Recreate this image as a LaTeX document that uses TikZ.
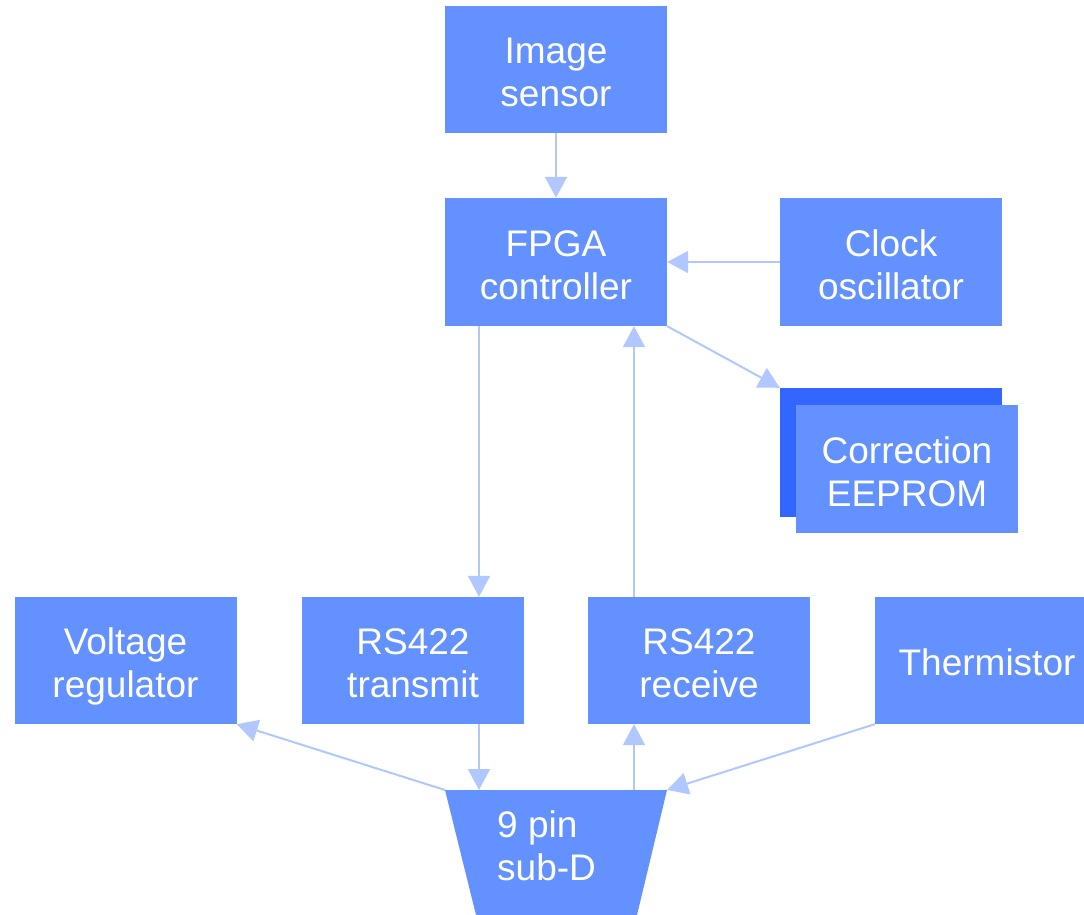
\documentclass[tikz,border=0pt]{standalone}
\usepackage{fontspec}
\setmainfont{Liberation Sans}
\usetikzlibrary{arrows.meta}
\definecolor{boxblue}{HTML}{6391FF}
\definecolor{backblue}{HTML}{3366FF}
\definecolor{arrblue}{HTML}{B0C8FF}
\tikzset{
  box/.style={fill=boxblue, text=white, minimum width=222pt, minimum height=127pt,
    inner sep=0pt, align=center, font=\fontsize{37}{43}\selectfont},
  arr/.style={draw=arrblue, line width=2pt, -{Triangle[length=21pt,width=22pt]}, color=arrblue}
}
\newcommand{\dn}[1]{\raisebox{-7pt}[\height][\depth]{\begin{tabular}{@{}c@{}}#1\end{tabular}}}
\begin{document}
\begin{tikzpicture}[x=1pt,y=-1pt]
\useasboundingbox (0,0) rectangle (1084,915);
\node[box] (img) at (556,69.5) {\dn{Image\\sensor}};
\node[box, minimum height=128pt] (fpga) at (556,262) {\dn{FPGA\\controller}};
\node[box, minimum height=128pt] (clk) at (891,262) {\dn{Clock\\oscillator}};
\node[fill=backblue, minimum width=222pt, minimum height=129pt, inner sep=0pt] (eeback) at (891,452.5) {};
\node[box, minimum height=128pt] (eeprom) at (907,469) {\dn{Correction\\EEPROM}};
\node[box] (vreg) at (125.5,660.5) {\dn{Voltage\\regulator}};
\node[box] (tx) at (413,660.5) {\dn{RS422\\transmit}};
\node[box] (rx) at (699,660.5) {\dn{RS422\\receive}};
\node[box, minimum width=209pt] (therm) at (979.5,660.5) {\hspace*{15pt}\raisebox{-2pt}[\height][\depth]{Thermistor}};
% sub-D trapezoid
\coordinate (dtl) at (445,790);
\coordinate (dtr) at (667,790);
\coordinate (dbr) at (637,915);
\coordinate (dbl) at (476,915);
\fill[boxblue] (dtl) -- (dtr) -- (dbr) -- (dbl) -- cycle;
\node[text=white, align=left, anchor=west, inner sep=0pt, font=\fontsize{37}{43}\selectfont] (subd) at (497,846) {9 pin\\sub-D};
\coordinate (dtx) at (479,790);
\coordinate (drx) at (634,790);
% connectors
\draw[arr] (img.south) -- (fpga.north);
\draw[arr] (clk.west) -- (fpga.east);
\draw[arr] (fpga.south east) -- (eeback.north west);
\draw[arr] (dtx |- fpga.south) -- (dtx |- tx.north);
\draw[arr] (drx |- rx.north) -- (drx |- fpga.south);
\draw[arr] (dtx |- tx.south) -- (dtx);
\draw[arr] (drx) -- (drx |- rx.south);
\draw[arr] (dtl) -- (vreg.south east);
\draw[arr] (therm.south west) -- (dtr);
\end{tikzpicture}
\end{document}
